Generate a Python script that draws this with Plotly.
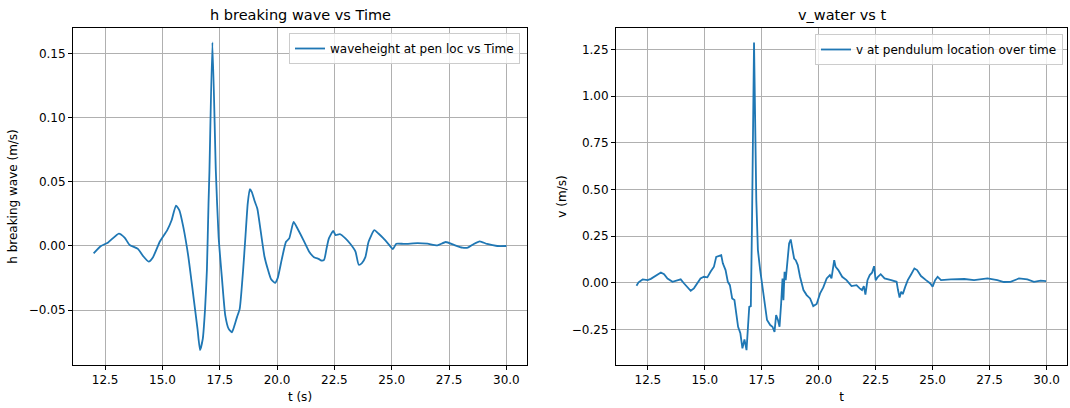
import plotly.graph_objects as go

# ---- data: wave height at pendulum location ----
t_h = [12.0, 12.32, 12.62, 13.1, 13.35, 13.57, 13.93, 14.15, 14.4, 14.59, 14.89,
       15.21, 15.4, 15.59, 15.74, 15.91, 16.13, 16.35, 16.53, 16.64, 16.76, 16.86,
       16.94, 17.01, 17.05, 17.18, 17.33, 17.45, 17.6, 17.74, 17.89, 18.03, 18.14,
       18.25, 18.37, 18.52, 18.62, 18.72, 18.81, 18.9, 19.02, 19.14, 19.28, 19.45,
       19.6, 19.74, 19.91, 20.03, 20.2, 20.39, 20.53, 20.72, 20.89, 21.15, 21.4,
       21.61, 21.83, 21.93, 22.05, 22.16, 22.26, 22.45, 22.55, 22.74, 22.98, 23.2,
       23.42, 23.56, 23.7, 23.85, 23.99, 24.24, 24.42, 24.64, 24.86, 25.05, 25.2,
       25.55, 26.13, 26.56, 26.99, 27.36, 27.72, 28.08, 28.32, 28.58, 28.84, 29.16,
       29.6, 30.0]
h = [-0.0057, 0.0, 0.0026, 0.0096, 0.0065, 0.0008, -0.0022, -0.0077, -0.0122,
     -0.0087, 0.0035, 0.0124, 0.02, 0.0315, 0.0278, 0.0149, -0.0082, -0.039,
     -0.0646, -0.081, -0.0723, -0.049, -0.0185, 0.033, 0.058, 0.1586, 0.058,
     0.0072, -0.026, -0.054, -0.0646, -0.0672, -0.062, -0.0556, -0.049, -0.0185,
     0.0072, 0.033, 0.0442, 0.042, 0.035, 0.029, 0.0123, -0.0082, -0.0184, -0.026,
     -0.0287, -0.0248, -0.0108, 0.0033, 0.0059, 0.0187, 0.0136, 0.0046, -0.0044,
     -0.0087, -0.0102, -0.0113, -0.0108, -0.0018, 0.0059, 0.0118, 0.0085, 0.0092,
     0.0059, 0.0015, -0.0044, -0.0146, -0.0133, -0.0087, 0.0033, 0.0123, 0.0097,
     0.0059, 0.0015, -0.0024, 0.0018, 0.0016, 0.0023, 0.0018, 0.0005, 0.0031,
     0.0008, -0.0013, -0.0013, 0.0016, 0.0036, 0.0016, 0.0, 0.0]

# ---- data: water velocity at pendulum location ----
t_v = [12.0, 12.09, 12.27, 12.49, 12.63, 12.82, 13.07, 13.21, 13.36, 13.58, 13.8,
       13.94, 14.09, 14.23, 14.38, 14.52, 14.67, 14.81, 14.96, 15.11, 15.25, 15.4,
       15.5, 15.64, 15.72, 15.79, 15.91, 16.01, 16.1, 16.2, 16.3, 16.39, 16.46,
       16.56, 16.65, 16.74, 16.83, 16.95, 17.02, 17.07, 17.16, 17.26, 17.33, 17.43,
       17.54, 17.65, 17.73, 17.87, 17.97, 18.06, 18.13, 18.21, 18.28, 18.35, 18.41,
       18.45, 18.5, 18.55, 18.63, 18.7, 18.77, 18.85, 18.92, 18.99, 19.08, 19.18,
       19.33, 19.47, 19.62, 19.76, 19.91, 20.06, 20.2, 20.35, 20.49, 20.56, 20.68,
       20.74, 20.86, 21.03, 21.22, 21.44, 21.66, 21.8, 21.9, 21.98, 22.05, 22.14,
       22.24, 22.34, 22.43, 22.5, 22.6, 22.72, 22.89, 23.18, 23.42, 23.48, 23.55,
       23.62, 23.69, 23.8, 23.91, 24.06, 24.2, 24.32, 24.49, 24.71, 24.9, 25.0,
       25.11, 25.22, 25.37, 25.8, 26.39, 26.82, 27.41, 27.84, 28.13, 28.42, 28.79,
       29.16, 29.45, 29.74, 29.98]
v = [-0.016, 0.002, 0.018, 0.014, 0.021, 0.037, 0.055, 0.046, 0.023, 0.005, 0.014,
     0.018, -0.004, -0.025, -0.043, -0.03, -0.004, 0.023, 0.032, 0.029, 0.059, 0.086,
     0.139, 0.143, 0.148, 0.104, 0.068, 0.005, -0.013, -0.084, -0.093, -0.173, -0.236,
     -0.271, -0.352, -0.304, -0.361, -0.129, -0.125, 0.31, 1.288, 0.443, 0.175, 0.068,
     -0.021, -0.129, -0.2, -0.227, -0.236, -0.263, -0.173, -0.2, -0.236, -0.111, 0.023,
     -0.093, 0.059, 0.014, 0.121, 0.211, 0.232, 0.175, 0.13, 0.121, 0.095, 0.032,
     -0.039, -0.066, -0.084, -0.125, -0.114, -0.057, -0.025, 0.023, 0.041, 0.023,
     0.121, 0.086, 0.068, 0.032, 0.014, -0.018, -0.013, -0.03, -0.039, -0.018, -0.063,
     0.014, 0.041, 0.054, 0.089, 0.014, 0.032, 0.046, 0.023, 0.014, 0.005, -0.039,
     -0.079, -0.048, -0.061, -0.021, 0.014, 0.046, 0.077, 0.068, 0.036, 0.014, -0.004,
     -0.021, 0.014, 0.032, 0.014, 0.018, 0.02, 0.014, 0.023, 0.014, 0.004, 0.005,
     0.023, 0.018, 0.005, 0.011, 0.009]

BLUE = "#1f77b4"
FONT = "DejaVu Sans"
W, H = 1070, 408

fig = go.Figure()
fig.add_trace(go.Scatter(x=t_h, y=h, mode="lines",
                         line=dict(color=BLUE, width=1.8, shape="spline", smoothing=0.5),
                         name="waveheight at pen loc vs Time", xaxis="x", yaxis="y",
                         legend="legend", showlegend=True))
fig.add_trace(go.Scatter(x=t_v, y=v, mode="lines", line=dict(color=BLUE, width=1.8),
                         name="v at pendulum location over time", xaxis="x2", yaxis="y2",
                         legend="legend2", showlegend=True))

axis_common = dict(showline=True, linecolor="black", linewidth=1, mirror=True,
                   ticks="outside", ticklen=4, tickcolor="black", tickwidth=1,
                   showgrid=True, gridcolor="#b0b0b0", gridwidth=0.8, zeroline=False,
                   tickfont=dict(family=FONT, size=12, color="black"),
                   automargin=False)

def xpx(a, b):
    return [a / W, b / W]

def ypx(top, bottom):
    return [1 - bottom / H, 1 - top / H]

fig.update_layout(
    width=W, height=H, margin=dict(l=0, r=0, t=0, b=0),
    paper_bgcolor="white", plot_bgcolor="white", showlegend=True,
    font=dict(family=FONT, size=12, color="black"),
    xaxis=dict(axis_common, domain=xpx(73, 527), range=[11.1, 30.9], dtick=2.5,
               tick0=0, tickformat=".1f", anchor="y",
               title=dict(text="t (s)", font=dict(family=FONT, size=12), standoff=6)),
    yaxis=dict(axis_common, domain=ypx(28, 365), range=[-0.0927, 0.1698], dtick=0.05,
               tick0=0, tickformat=".2f", anchor="x",
               title=dict(text="h breaking wave (m/s)", font=dict(family=FONT, size=12),
                          standoff=8)),
    xaxis2=dict(axis_common, domain=xpx(616, 1067), range=[11.1, 30.9], dtick=2.5,
                tick0=0, tickformat=".1f", anchor="y2",
                title=dict(text="t", font=dict(family=FONT, size=12), standoff=6)),
    yaxis2=dict(axis_common, domain=ypx(28, 365), range=[-0.441, 1.366], dtick=0.25,
                tick0=0, tickformat=".2f", anchor="x2",
                title=dict(text="v (m/s)", font=dict(family=FONT, size=12), standoff=2)),
    legend=dict(x=520 / W, y=1 - 33 / H, xanchor="right", yanchor="top",
                bgcolor="rgba(255,255,255,0.8)", bordercolor="#cccccc", borderwidth=1,
                font=dict(family=FONT, size=12), tracegroupgap=0),
    legend2=dict(x=1063 / W, y=1 - 34 / H, xanchor="right", yanchor="top",
                 bgcolor="rgba(255,255,255,0.8)", bordercolor="#cccccc", borderwidth=1,
                 font=dict(family=FONT, size=12), tracegroupgap=0),
    annotations=[
        dict(text="h breaking wave vs Time", x=300 / W, y=1 - 15 / H, xref="paper",
             yref="paper", showarrow=False, font=dict(family=FONT, size=14.5),
             xanchor="center", yanchor="middle"),
        dict(text="v_water vs t", x=841.5 / W, y=1 - 15 / H, xref="paper",
             yref="paper", showarrow=False, font=dict(family=FONT, size=14.5),
             xanchor="center", yanchor="middle"),
    ],
)

fig.write_html("out.html")
